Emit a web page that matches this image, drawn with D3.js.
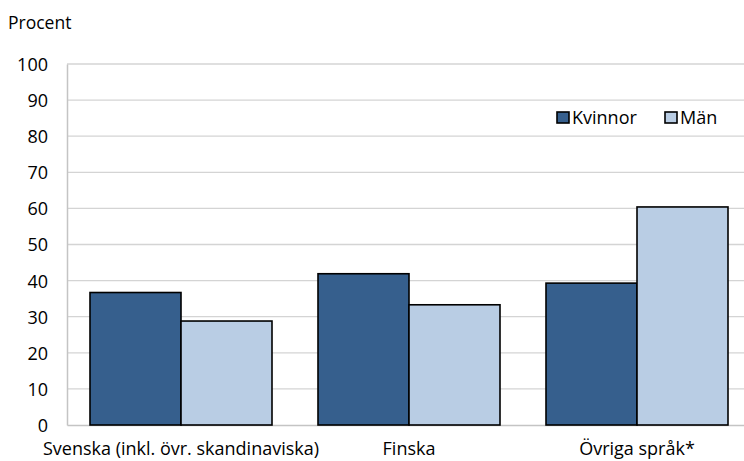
<!DOCTYPE html>
<html><head><meta charset="utf-8">
<script src="https://cdn.jsdelivr.net/npm/d3@7"></script>
<style>body{margin:0;background:#fff}svg{display:block}text{font-family:"Open Sans",sans-serif;fill:#000}</style>
</head><body><svg id="c" width="744" height="461"></svg>
<script>
const categories = ["Svenska (inkl. övr. skandinaviska)", "Finska", "Övriga språk*"];
const seriesNames = ["Kvinnor", "Män"];
const kvinnor = [36.7, 41.9, 39.3];
const man = [28.8, 33.3, 60.4];
const yTicks = [0, 10, 20, 30, 40, 50, 60, 70, 80, 90, 100];
const colors = ["#365f8d", "#b9cde4"];

(function () {
const svg = d3.select("#c");
const mLeft = 67, mRight = 751, mTop = 64, mBottom = 425;
const fs = 18;
const x0 = d3.scaleBand().domain(categories).range([mLeft, mRight]).paddingInner(46/228).paddingOuter(23/228);
const x1 = d3.scaleBand().domain(seriesNames).range([0, x0.bandwidth()]);
const y = d3.scaleLinear().domain([0, 100]).range([mBottom, mTop]);

svg.append("g").selectAll("line").data(yTicks.filter(d => d > 0)).join("line")
  .attr("x1", mLeft).attr("x2", mRight).attr("y1", d => y(d)).attr("y2", d => y(d))
  .attr("stroke", "#d4d4d4").attr("stroke-width", 1.3);

const yAxis = d3.axisLeft(y).tickValues(yTicks).tickSize(0).tickPadding(19);
const gy = svg.append("g").attr("transform", `translate(${mLeft},0)`).call(yAxis);
gy.select(".domain").attr("stroke", "#c4c4c4").attr("stroke-width", 1.5);
gy.selectAll("text").attr("font-size", fs).attr("font-family", "Open Sans").attr("dy", "0.36em").attr("fill", "#000");

const xAxis = d3.axisBottom(x0).tickSize(0);
const gx = svg.append("g").attr("transform", `translate(0,${mBottom})`).call(xAxis);
gx.select(".domain").attr("stroke", "#c4c4c4").attr("stroke-width", 1.5);
gx.selectAll("text").attr("font-size", fs).attr("font-family", "Open Sans").attr("fill", "#000")
  .attr("y", 30).attr("dy", 0);

const data = categories.map((c, i) => ({c, vals: [kvinnor[i], man[i]]}));
const groups = svg.append("g").selectAll("g").data(data).join("g")
  .attr("transform", d => `translate(${x0(d.c)},0)`);
groups.selectAll("rect").data(d => d.vals.map((v, j) => ({s: seriesNames[j], v, j}))).join("rect")
  .attr("x", d => x1(d.s)).attr("width", x1.bandwidth())
  .attr("y", d => y(d.v)).attr("height", d => y(0) - y(d.v))
  .attr("fill", d => colors[d.j]).attr("stroke", "#000").attr("stroke-width", 1.6);

svg.append("text").attr("x", 8).attr("y", 29).attr("font-size", 17.5).text("Procent");

const legend = svg.append("g").selectAll("g").data(seriesNames).join("g")
  .attr("transform", (d, i) => `translate(${[557, 665][i]},112)`);
legend.append("rect").attr("width", 12).attr("height", 11)
  .attr("fill", (d, i) => colors[i]).attr("stroke", "#000").attr("stroke-width", 1.6);
legend.append("text").attr("x", 15).attr("y", 11.5).attr("font-size", fs).text(d => d);
})();
</script></body></html>
